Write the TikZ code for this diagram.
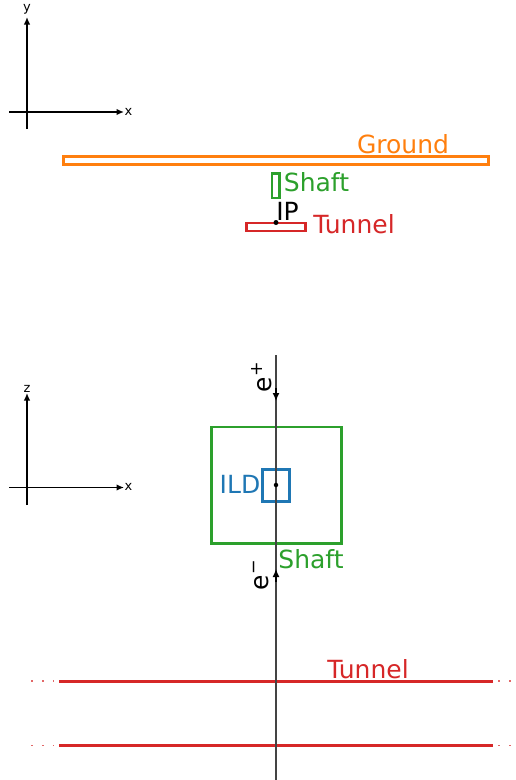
\documentclass[tikz,border=0pt]{standalone}
\usepackage{fontspec}
\setmainfont{DejaVu Sans}
\usetikzlibrary{arrows.meta}
\definecolor{mplorange}{HTML}{FF7F0E}
\definecolor{mplgreen}{HTML}{2CA02C}
\definecolor{mplred}{HTML}{D62728}
\definecolor{mplblue}{HTML}{1F77B4}
\definecolor{beamgray}{HTML}{444444}
\begin{document}
\begin{tikzpicture}[x=1pt,y=-1pt,
  lbl/.style={font=\fontsize{25}{25}\selectfont, inner sep=0pt},
  axlbl/.style={font=\fontsize{13}{13}\selectfont, inner sep=0pt},
  axis/.style={line width=1.4pt, -{Latex[length=7.5pt,width=6.5pt]}},
  boxnode/.style={rectangle, draw, inner sep=0pt, line width=2.6pt},
  beamarrow/.style={draw=black, line width=1.3pt, -{Latex[length=8pt,width=7pt]}},
  tunnelline/.style={draw=mplred, line width=3pt},
  tunneldots/.style={draw=mplred!70, line width=1.6pt, dash pattern=on 1.6pt off 9.2pt},
  ipdot/.style={circle, fill=black, inner sep=0pt, minimum size=5pt}
]
\useasboundingbox (0,0) rectangle (515,780);

% ---------- top view (x-y) ----------
\coordinate (yorig) at (27,129);
\coordinate (ytip) at (27,17);
\coordinate (xorigA) at (9,112);
\coordinate (xtipA) at (124,112);
\draw[axis] (yorig) -- (ytip);
\draw[axis] (xorigA) -- (xtipA);
\node[axlbl] (ylab) at (27,9) {y};
\node[axlbl] (xlabA) at (128.5,111.5) {x};

\node[boxnode, draw=mplorange, minimum width=425pt, minimum height=8pt] (ground) at (276,160.5) {};
\node[lbl, text=mplorange] (groundlab) at (403,144.5) {Ground};

\node[boxnode, draw=mplgreen, minimum width=7.5pt, minimum height=24.5pt] (shaftA) at (275.8,185.8) {};
\node[lbl, text=mplgreen] (shaftlabA) at (316.5,182.5) {Shaft};

\node[boxnode, draw=mplred, minimum width=59pt, minimum height=8.2pt] (tunnelA) at (275.8,227) {};
\node[lbl, text=mplred] (tunnellabA) at (354,224) {Tunnel};
\node[ipdot] (ipA) at (276,222.5) {};
\node[lbl] (iplab) at (287.5,211.5) {IP};

% ---------- side view (x-z) ----------
\coordinate (zorig) at (27,505);
\coordinate (ztip) at (27,393);
\coordinate (xorigB) at (9,487.5);
\coordinate (xtipB) at (124,487.5);
\draw[axis] (zorig) -- (ztip);
\draw[axis] (xorigB) -- (xtipB);
\node[axlbl] (zlab) at (27,388.5) {z};
\node[axlbl] (xlabB) at (128.5,487) {x};

\node[boxnode, draw=mplgreen, minimum width=130pt, minimum height=116.7pt] (shaftB) at (276.3,485.3) {};
\node[lbl, text=mplgreen] (shaftlabB) at (311,559.5) {Shaft};

\node[boxnode, draw=mplblue, minimum width=27pt, minimum height=32pt] (ild) at (275.8,485.5) {};
\node[lbl, text=mplblue] (ildlab) at (240,484.5) {ILD};

% tunnel walls
\coordinate (tlA) at (59,681);
\coordinate (trA) at (492.5,681);
\coordinate (tlB) at (59,745.5);
\coordinate (trB) at (492.5,745.5);
\draw[tunnelline] (tlA) -- (trA);
\draw[tunnelline] (tlB) -- (trB);
\coordinate (dlA) at (31.2,681);
\coordinate (drA) at (498.2,681);
\coordinate (dlB) at (31.2,745.5);
\coordinate (drB) at (498.2,745.5);
\coordinate (deA) at (514,681);
\coordinate (deB) at (514,745.5);
\draw[tunneldots] (dlA) -- (tlA);
\draw[tunneldots] (drA) -- (deA);
\draw[tunneldots] (dlB) -- (tlB);
\draw[tunneldots] (drB) -- (deB);
\node[lbl, text=mplred] (tunnellabB) at (368,669.5) {Tunnel};

% beam axis
\coordinate (beamtop) at (276,355);
\coordinate (beambot) at (276,780);
\draw[beamgray, line width=1.4pt] (beamtop) -- (beambot);
\coordinate (epA) at (276,388);
\coordinate (epB) at (276,401);
\draw[beamarrow] (epA) -- (epB);
\coordinate (emA) at (276,582);
\coordinate (emB) at (276,569);
\draw[beamarrow] (emA) -- (emB);
\node[ipdot, minimum size=4.5pt] (ipB) at (276,485) {};

\node[lbl, rotate=90] (eplus) at (261.5,377) {e\kern1pt\textsuperscript{+}};
\node[lbl, rotate=90] (eminus) at (261.5,575) {e\kern1pt\textsuperscript{−}};
\end{tikzpicture}
\end{document}
